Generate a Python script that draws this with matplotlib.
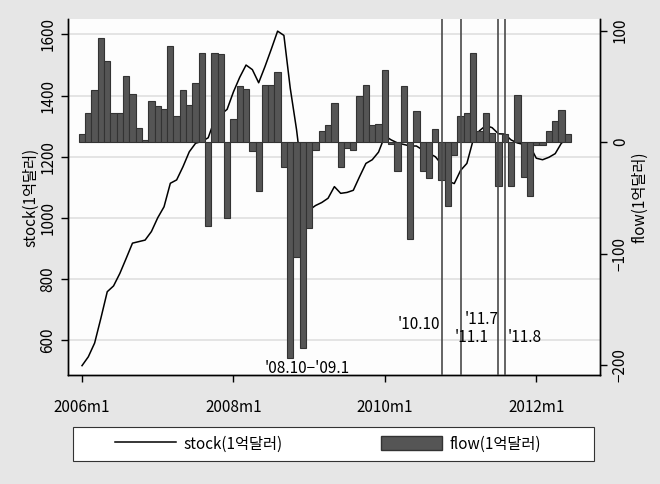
import numpy as np
import matplotlib.pyplot as plt
from matplotlib.patches import Patch, Rectangle
from matplotlib.lines import Line2D

plt.rcParams['font.family'] = ['Noto Sans CJK KR', 'DejaVu Sans']

# 월별 (2006m1 = 0)
flow = [7, 26, 47, 93, 73, 26, 26, 59, 43, 13, 2, 37,
        32, 30, 86, 23, 47, 33, 53, 80, -75, 80, 79, -68,
        21, 50, 48, -8, -44, 51, 51, 63, -22, -194, -103, -185,
        -77, -7, 10, 15, 35, -22, -5, -7, 41, 51, 15, 16,
        65, -2, -26, 50, -87, 28, -26, -32, 12, -34, -57, -12,
        23, 26, 80, 10, 26, 8, -39, 7, -39, 42, -31, -48,
        -3, -3, 10, 19, 29, 7]
stock = [516, 545, 590, 672, 758, 777, 818, 867, 917, 922, 927, 955,
         1000, 1036, 1113, 1124, 1167, 1216, 1244, 1250, 1262, 1320, 1338, 1355,
         1412, 1460, 1500, 1485, 1442, 1495, 1552, 1611, 1597, 1425, 1289, 1120,
         1025, 1040, 1050, 1064, 1102, 1080, 1083, 1090, 1135, 1178, 1190, 1215,
         1268, 1255, 1245, 1240, 1235, 1235, 1222, 1211, 1200, 1175, 1120, 1112,
         1155, 1178, 1255, 1285, 1302, 1295, 1275, 1274, 1255, 1245, 1240, 1235,
         1195, 1190, 1198, 1210, 1245, 1255]
months = np.arange(len(flow))

xtick_pos = [0, 24, 48, 72]
xtick_lab = ['2006m1', '2008m1', '2010m1', '2012m1']
events = [57, 60, 66, 67]
notes = [(56.7, -164, "'10.10", 'right'),
         (59.1, -175, "'11.1", 'left'),
         (60.7, -159, "'11.7", 'left'),
         (67.4, -175, "'11.8", 'left'),
         (29.0, -203, "'08.10\u2212'09.1", 'left')]

bg = '#e6e6e6'
bar_fc = '#555555'
bar_ec = '#333333'
fs = 11
W, H = 660, 484
fig = plt.figure(figsize=(6.6, 4.84), dpi=100, facecolor=bg)
ax = fig.add_axes([68/W, 109/H, 532/W, 356/H])
ax.set_facecolor('#fdfdfd')
ax2 = ax.twinx()

ax.plot(months, stock, color='black', lw=1.1, zorder=2)
ax.set_ylim(485.4, 1650.7)
ax.set_yticks([600, 800, 1000, 1200, 1400, 1600])
ax.grid(axis='y', color='#e2e2e2', lw=1.3)
ax.set_axisbelow(True)
ax.set_xlim(-2.22, 82.1)
ax.set_xticks(xtick_pos)
ax.set_xticklabels(xtick_lab)

ax2.bar(months, flow, width=1.0, color=bar_fc, edgecolor=bar_ec, lw=0.8, zorder=3)
for t in events:
    ax2.axvline(t, color='#4a4a4a', lw=1.2, zorder=4)
ax2.set_ylim(-209, 110.5)
ax2.set_yticks([-200, -100, 0, 100])
ax2.set_yticklabels(['\u2212200', '\u2212100', '0', '100'])
for x, y, s, ha in notes:
    ax2.text(x, y, s, ha=ha, va='center', fontsize=fs, zorder=5)

for a in (ax, ax2):
    a.spines['top'].set_visible(False)
    for s in ('left', 'right', 'bottom'):
        a.spines[s].set_linewidth(1.0)
ax.tick_params(axis='both', direction='out', length=5, width=1, labelsize=fs)
ax2.tick_params(axis='y', direction='out', length=5, width=1, labelsize=fs)
ax.tick_params(axis='x', pad=12)
plt.setp(ax.get_yticklabels(), rotation=90, va='center')
plt.setp(ax2.get_yticklabels(), rotation=90, va='center')

ax.set_ylabel('stock(1억달러)', fontsize=fs, labelpad=0)
ax2.set_ylabel('flow(1억달러)', fontsize=fs, labelpad=2, rotation=90)

# 범례 상자
fig.patches.append(Rectangle((73/W, 23/H), 521/W, 34/H, transform=fig.transFigure,
                             facecolor='white', edgecolor='#333333', lw=0.8))
handles = [Line2D([], [], color='black', lw=1.1),
           Patch(facecolor=bar_fc, edgecolor=bar_ec)]
leg = fig.legend(handles, ['stock(1억달러)', 'flow(1억달러)'], ncol=2,
                 loc='center', bbox_to_anchor=(328/W, 40/H), frameon=False,
                 fontsize=fs, handlelength=4.0, handleheight=1.0,
                 handletextpad=0.5, columnspacing=6.4)

fig.savefig('out.png', dpi=100, facecolor=bg)
